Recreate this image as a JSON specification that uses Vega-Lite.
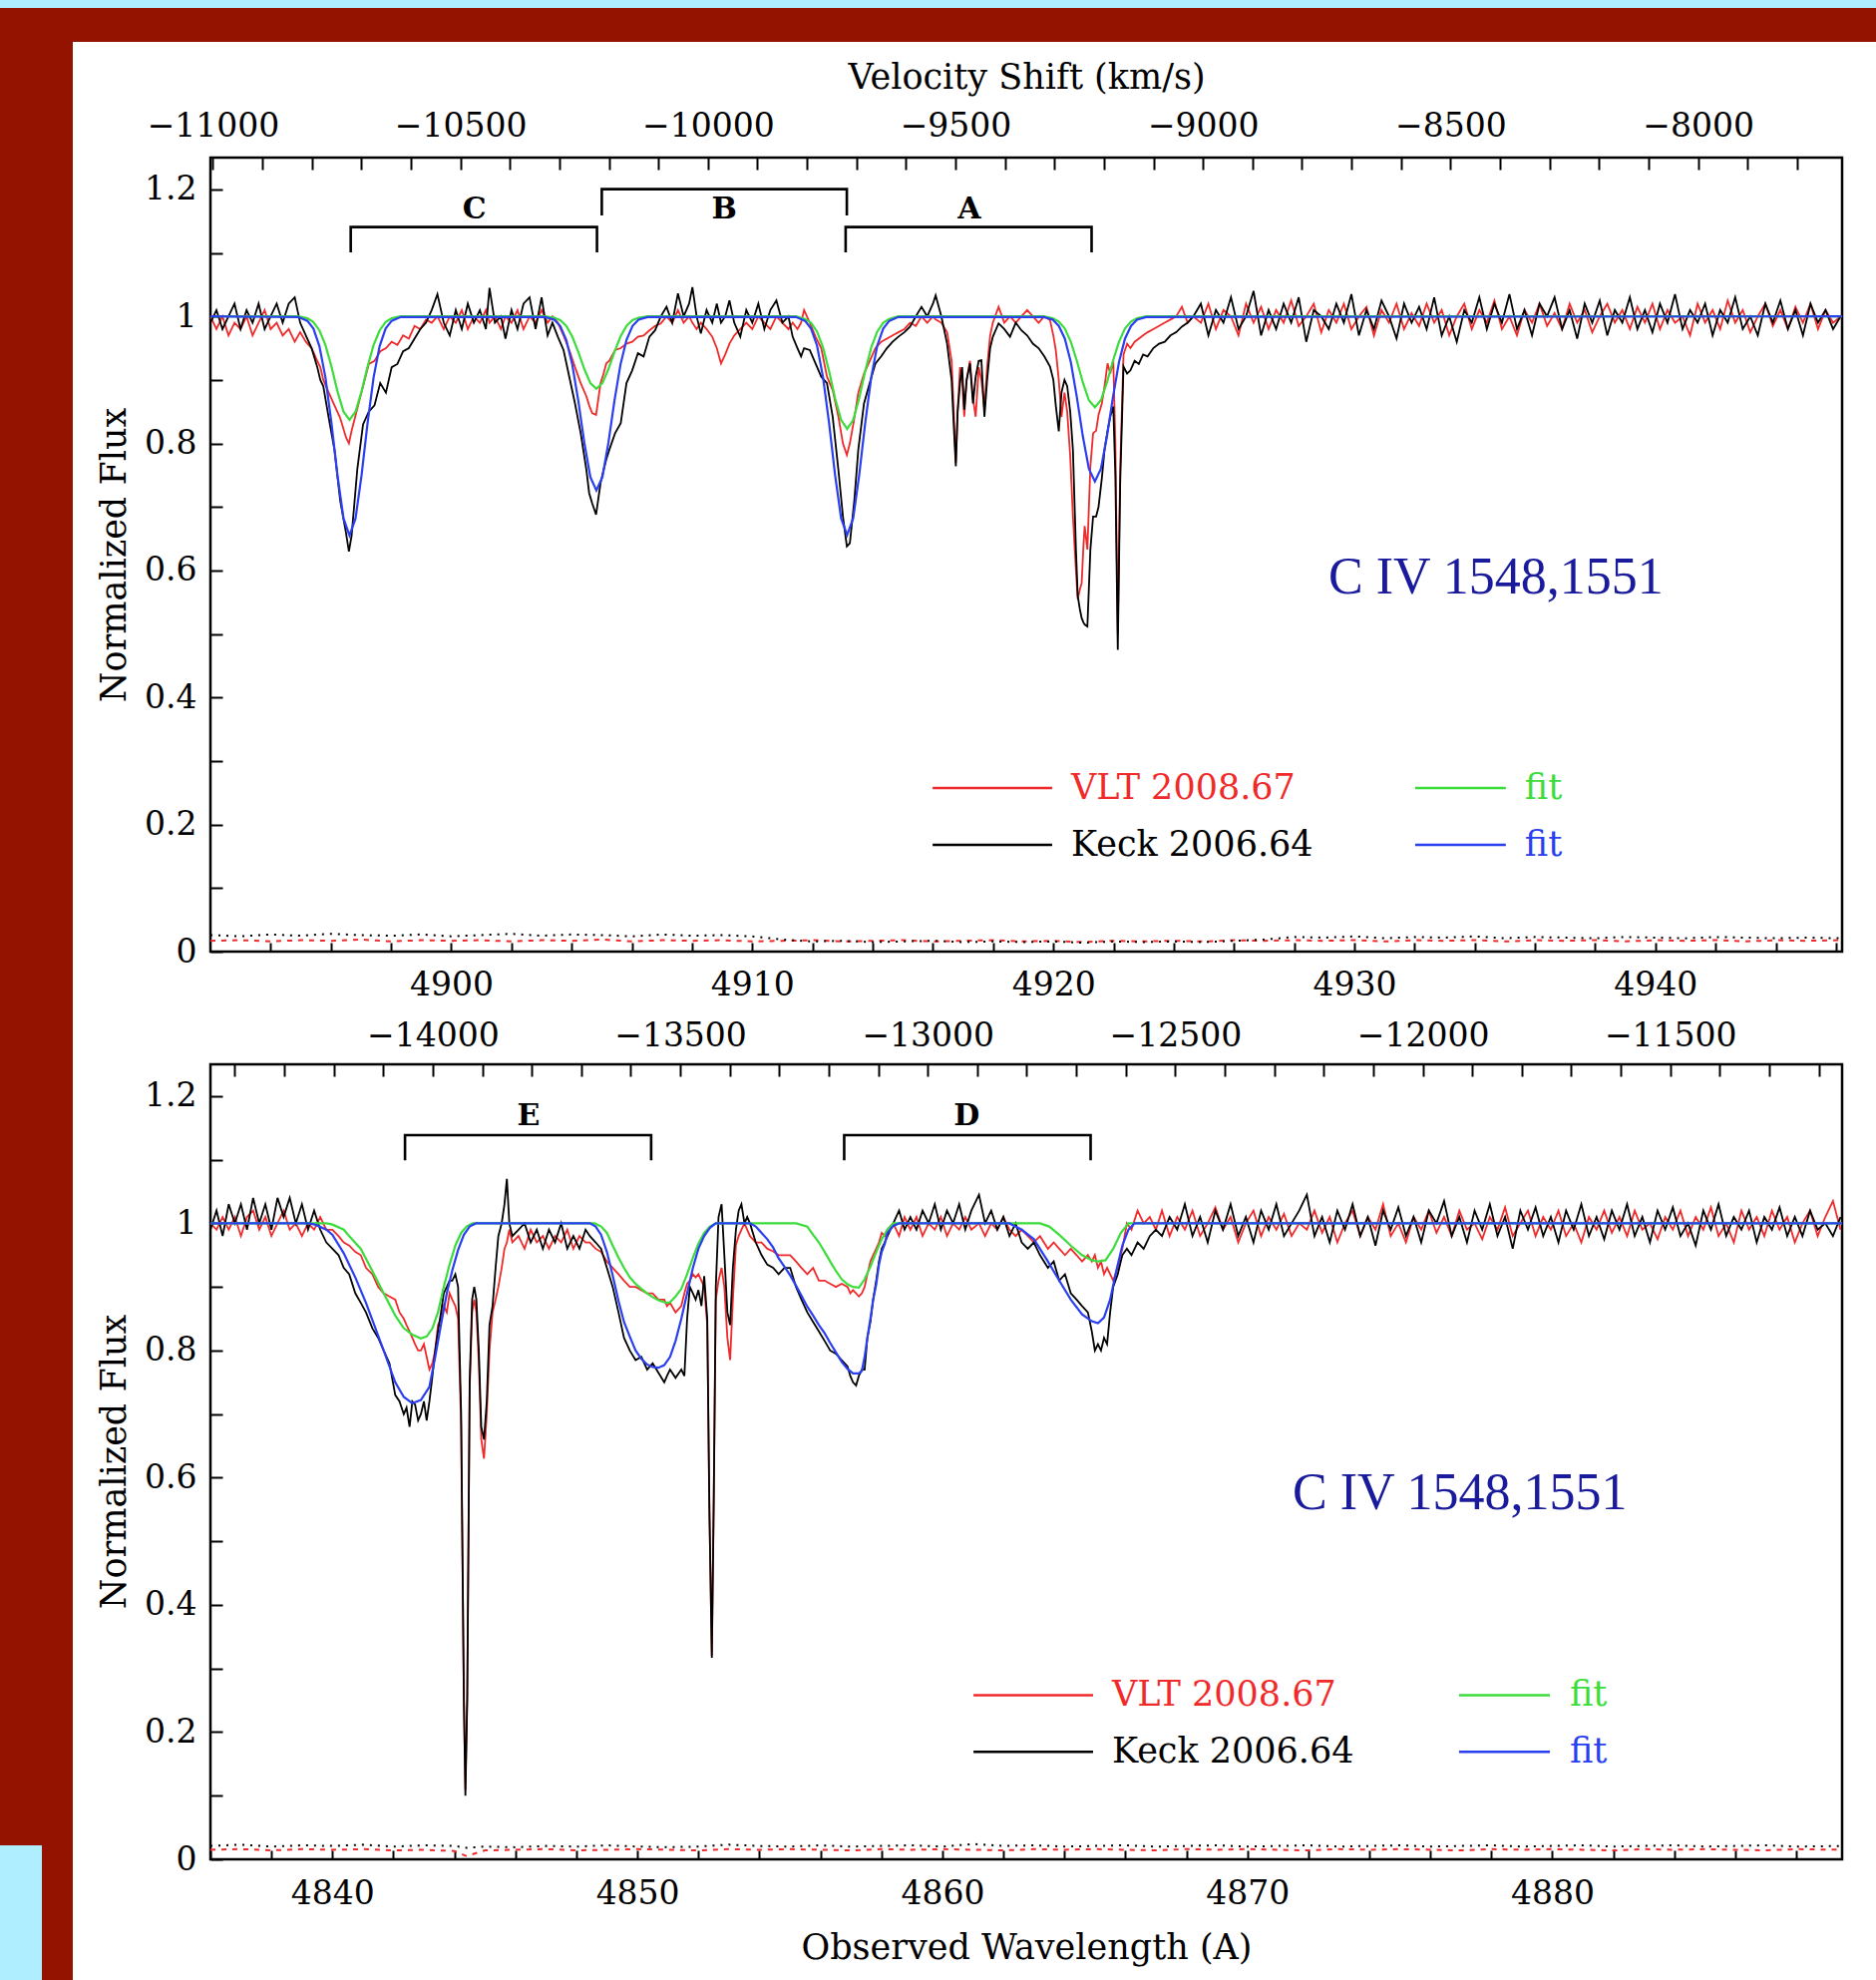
{
"padding": 0,
"background": "white",
"spacing": 0,
"config": {"view": {"stroke": null}},
"vconcat": [
{"width":1881,"height":8,"view":{"fill":"#aeeeff"},"data":{"values":[{"a":1}]},"mark":{"type":"point","opacity":0}},
{"width":1881,"height":34,"view":{"fill":"#931300"},"data":{"values":[{"a":1}]},"mark":{"type":"point","opacity":0}},
{"spacing": 0, "hconcat": [
 {"spacing": 0, "vconcat": [
  {"width":73,"height":1808,"view":{"fill":"#931300"},"data":{"values":[{"a":1}]},"mark":{"type":"point","opacity":0}},
  {"spacing": 0, "hconcat": [
   {"width":42,"height":135,"view":{"fill":"#aeeeff"},"data":{"values":[{"a":1}]},"mark":{"type":"point","opacity":0}},
   {"width":31,"height":136,"view":{"fill":"#931300"},"data":{"values":[{"a":1}]},"mark":{"type":"point","opacity":0}}
  ]}
 ]},
 {"width":22,"height":10,"data":{"values":[{"a":1}]},"mark":{"type":"point","opacity":0}},
 {"spacing": 0, "vconcat": [
  {"width":1636,"height":16,"data":{"values":[{"a":1}]},"mark":{"type":"point","opacity":0}},
  {
   "width": 1636, "height": 796,
   "view": {"stroke": "#000000", "strokeWidth": 2.5},
   "resolve": {"scale": {"x": "independent"}, "axis": {"y": "independent"}},
   "layer": [
    {"data": {"values": [{"w":4892,"r":1,"k":0.99},{"w":4892.2,"r":0.98,"k":1.01},{"w":4892.4,"r":1,"k":0.98},{"w":4892.6,"r":0.97,"k":1},{"w":4892.8,"r":0.99,"k":1.02},{"w":4893,"r":0.98,"k":0.98},{"w":4893.2,"r":1,"k":1.01},{"w":4893.4,"r":0.97,"k":0.99},{"w":4893.6,"r":0.99,"k":1.02},{"w":4893.8,"r":1.01,"k":0.98},{"w":4894,"r":0.98,"k":1},{"w":4894.2,"r":0.99,"k":1.02},{"w":4894.4,"r":0.97,"k":0.99},{"w":4894.6,"r":0.98,"k":1.02},{"w":4894.8,"r":0.96,"k":1.03},{"w":4894.98,"r":0.975,"k":0.99},{"w":4895.17,"r":0.96,"k":0.97},{"w":4895.36,"r":0.95,"k":0.95},{"w":4895.55,"r":0.93,"k":0.92},{"w":4895.65,"r":0.92,"k":0.9},{"w":4895.75,"r":0.9,"k":0.89},{"w":4895.93,"r":0.88,"k":0.84},{"w":4896.12,"r":0.86,"k":0.79},{"w":4896.31,"r":0.84,"k":0.71},{"w":4896.5,"r":0.81,"k":0.66},{"w":4896.6,"r":0.8,"k":0.63},{"w":4896.69,"r":0.82,"k":0.655},{"w":4896.88,"r":0.855,"k":0.76},{"w":4897.07,"r":0.89,"k":0.83},{"w":4897.26,"r":0.925,"k":0.85},{"w":4897.45,"r":0.93,"k":0.86},{"w":4897.64,"r":0.945,"k":0.895},{"w":4897.83,"r":0.95,"k":0.88},{"w":4898.02,"r":0.96,"k":0.92},{"w":4898.21,"r":0.955,"k":0.925},{"w":4898.4,"r":0.97,"k":0.945},{"w":4898.59,"r":0.965,"k":0.95},{"w":4898.78,"r":0.985,"k":0.965},{"w":4898.97,"r":0.98,"k":0.98},{"w":4899.16,"r":0.995,"k":0.99},{"w":4899.35,"r":0.99,"k":1.01},{"w":4899.54,"r":1,"k":1.035},{"w":4899.75,"r":0.98,"k":0.99},{"w":4899.95,"r":1,"k":0.97},{"w":4900.15,"r":0.99,"k":1.01},{"w":4900.35,"r":1.01,"k":0.98},{"w":4900.55,"r":0.98,"k":1.02},{"w":4900.75,"r":1,"k":0.99},{"w":4900.95,"r":0.99,"k":1.01},{"w":4901.15,"r":1.01,"k":0.98},{"w":4901.27,"r":0.99,"k":1.045},{"w":4901.45,"r":1,"k":0.99},{"w":4901.65,"r":0.98,"k":1},{"w":4901.8,"r":1,"k":0.965},{"w":4902,"r":0.99,"k":1.01},{"w":4902.2,"r":1.01,"k":0.98},{"w":4902.4,"r":0.98,"k":1.02},{"w":4902.6,"r":1,"k":1.03},{"w":4902.8,"r":0.99,"k":0.98},{"w":4903,"r":1.01,"k":1.03},{"w":4903.2,"r":0.99,"k":0.97},{"w":4903.36,"r":1,"k":0.99},{"w":4903.54,"r":0.99,"k":0.968},{"w":4903.73,"r":0.97,"k":0.947},{"w":4903.92,"r":0.947,"k":0.905},{"w":4904.11,"r":0.92,"k":0.863},{"w":4904.3,"r":0.895,"k":0.816},{"w":4904.49,"r":0.874,"k":0.758},{"w":4904.58,"r":0.86,"k":0.722},{"w":4904.68,"r":0.848,"k":0.706},{"w":4904.81,"r":0.845,"k":0.688},{"w":4904.96,"r":0.895,"k":0.738},{"w":4905.06,"r":0.91,"k":0.758},{"w":4905.15,"r":0.926,"k":0.775},{"w":4905.25,"r":0.93,"k":0.79},{"w":4905.44,"r":0.947,"k":0.816},{"w":4905.63,"r":0.95,"k":0.832},{"w":4905.82,"r":0.957,"k":0.895},{"w":4906.01,"r":0.96,"k":0.915},{"w":4906.2,"r":0.968,"k":0.942},{"w":4906.39,"r":0.97,"k":0.937},{"w":4906.58,"r":0.978,"k":0.968},{"w":4906.77,"r":0.985,"k":0.978},{"w":4906.96,"r":0.989,"k":1},{"w":4907.15,"r":1,"k":1.015},{"w":4907.34,"r":0.99,"k":0.99},{"w":4907.53,"r":1.01,"k":1.036},{"w":4907.72,"r":0.99,"k":1},{"w":4907.9,"r":1,"k":1.02},{"w":4908.01,"r":0.99,"k":1.046},{"w":4908.15,"r":0.98,"k":1},{"w":4908.29,"r":0.99,"k":0.973},{"w":4908.48,"r":0.98,"k":1.01},{"w":4908.67,"r":0.968,"k":0.99},{"w":4908.82,"r":0.95,"k":1.02},{"w":4908.96,"r":0.926,"k":0.99},{"w":4909.1,"r":0.94,"k":1},{"w":4909.24,"r":0.957,"k":1.025},{"w":4909.4,"r":0.97,"k":0.99},{"w":4909.6,"r":0.98,"k":0.968},{"w":4909.8,"r":0.99,"k":1.01},{"w":4910,"r":0.98,"k":0.99},{"w":4910.2,"r":1,"k":1.02},{"w":4910.4,"r":0.99,"k":0.98},{"w":4910.6,"r":0.98,"k":1.01},{"w":4910.8,"r":1,"k":1.025},{"w":4911,"r":0.99,"k":0.99},{"w":4911.2,"r":0.98,"k":1},{"w":4911.34,"r":0.99,"k":0.968},{"w":4911.5,"r":0.98,"k":0.95},{"w":4911.62,"r":0.99,"k":0.937},{"w":4911.72,"r":1.01,"k":0.95},{"w":4911.91,"r":0.99,"k":0.947},{"w":4912.1,"r":0.968,"k":0.926},{"w":4912.29,"r":0.95,"k":0.905},{"w":4912.48,"r":0.905,"k":0.895},{"w":4912.67,"r":0.884,"k":0.842},{"w":4912.86,"r":0.842,"k":0.758},{"w":4913.01,"r":0.8,"k":0.685},{"w":4913.14,"r":0.782,"k":0.638},{"w":4913.24,"r":0.8,"k":0.643},{"w":4913.39,"r":0.84,"k":0.711},{"w":4913.52,"r":0.88,"k":0.79},{"w":4913.71,"r":0.91,"k":0.863},{"w":4913.9,"r":0.93,"k":0.895},{"w":4914.09,"r":0.95,"k":0.926},{"w":4914.28,"r":0.96,"k":0.937},{"w":4914.47,"r":0.965,"k":0.95},{"w":4914.66,"r":0.97,"k":0.96},{"w":4914.85,"r":0.975,"k":0.968},{"w":4915.05,"r":0.98,"k":0.975},{"w":4915.24,"r":0.99,"k":0.984},{"w":4915.43,"r":0.985,"k":1},{"w":4915.62,"r":1,"k":1.015},{"w":4915.81,"r":0.99,"k":1},{"w":4916,"r":1,"k":1.02},{"w":4916.09,"r":0.995,"k":1.033},{"w":4916.28,"r":0.99,"k":1},{"w":4916.47,"r":0.975,"k":0.957},{"w":4916.62,"r":0.93,"k":0.9},{"w":4916.7,"r":0.84,"k":0.82},{"w":4916.76,"r":0.77,"k":0.764},{"w":4916.82,"r":0.85,"k":0.85},{"w":4916.9,"r":0.92,"k":0.895},{"w":4916.97,"r":0.9,"k":0.92},{"w":4917.04,"r":0.842,"k":0.853},{"w":4917.12,"r":0.9,"k":0.9},{"w":4917.23,"r":0.93,"k":0.926},{"w":4917.33,"r":0.87,"k":0.863},{"w":4917.42,"r":0.842,"k":0.905},{"w":4917.52,"r":0.92,"k":0.93},{"w":4917.61,"r":0.9,"k":0.931},{"w":4917.71,"r":0.853,"k":0.842},{"w":4917.8,"r":0.92,"k":0.9},{"w":4917.9,"r":0.97,"k":0.95},{"w":4917.99,"r":0.99,"k":0.968},{"w":4918.18,"r":1.015,"k":0.989},{"w":4918.37,"r":0.99,"k":0.98},{"w":4918.56,"r":1,"k":0.968},{"w":4918.75,"r":0.99,"k":0.99},{"w":4918.94,"r":1,"k":0.978},{"w":4919.13,"r":1.01,"k":0.97},{"w":4919.32,"r":1,"k":0.957},{"w":4919.51,"r":0.99,"k":0.95},{"w":4919.7,"r":1,"k":0.937},{"w":4919.89,"r":0.994,"k":0.921},{"w":4920,"r":0.97,"k":0.9},{"w":4920.08,"r":0.947,"k":0.86},{"w":4920.18,"r":0.9,"k":0.819},{"w":4920.27,"r":0.842,"k":0.88},{"w":4920.37,"r":0.88,"k":0.9},{"w":4920.46,"r":0.85,"k":0.89},{"w":4920.56,"r":0.78,"k":0.85},{"w":4920.65,"r":0.685,"k":0.79},{"w":4920.75,"r":0.6,"k":0.633},{"w":4920.81,"r":0.555,"k":0.56},{"w":4920.88,"r":0.57,"k":0.539},{"w":4920.94,"r":0.58,"k":0.525},{"w":4921,"r":0.64,"k":0.518},{"w":4921.04,"r":0.67,"k":0.515},{"w":4921.13,"r":0.633,"k":0.512},{"w":4921.23,"r":0.764,"k":0.633},{"w":4921.32,"r":0.816,"k":0.685},{"w":4921.42,"r":0.82,"k":0.685},{"w":4921.5,"r":0.845,"k":0.7},{"w":4921.61,"r":0.863,"k":0.745},{"w":4921.7,"r":0.89,"k":0.79},{"w":4921.8,"r":0.926,"k":0.82},{"w":4921.89,"r":0.91,"k":0.842},{"w":4921.99,"r":0.93,"k":0.858},{"w":4922.06,"r":0.8,"k":0.75},{"w":4922.14,"r":0.5,"k":0.475},{"w":4922.22,"r":0.76,"k":0.738},{"w":4922.33,"r":0.94,"k":0.921},{"w":4922.45,"r":0.957,"k":0.91},{"w":4922.56,"r":0.95,"k":0.915},{"w":4922.7,"r":0.96,"k":0.93},{"w":4922.84,"r":0.965,"k":0.925},{"w":4922.98,"r":0.97,"k":0.94},{"w":4923.13,"r":0.975,"k":0.937},{"w":4923.32,"r":0.98,"k":0.95},{"w":4923.51,"r":0.985,"k":0.957},{"w":4923.7,"r":0.99,"k":0.96},{"w":4923.89,"r":0.995,"k":0.97},{"w":4924.08,"r":1,"k":0.975},{"w":4924.27,"r":1.015,"k":0.984},{"w":4924.46,"r":0.99,"k":0.99},{"w":4924.65,"r":1,"k":1},{"w":4924.9,"r":0.99,"k":1.02},{"w":4925.15,"r":1.02,"k":0.97},{"w":4925.4,"r":0.98,"k":1.01},{"w":4925.65,"r":1.01,"k":0.99},{"w":4925.9,"r":1,"k":1.03},{"w":4926.15,"r":0.97,"k":0.98},{"w":4926.4,"r":1.02,"k":1},{"w":4926.65,"r":0.99,"k":1.04},{"w":4926.9,"r":1.015,"k":0.97},{"w":4927.15,"r":0.98,"k":1.01},{"w":4927.4,"r":1.01,"k":0.98},{"w":4927.65,"r":0.99,"k":1.02},{"w":4927.9,"r":1.025,"k":0.99},{"w":4928.15,"r":0.985,"k":1.03},{"w":4928.4,"r":1,"k":0.96},{"w":4928.65,"r":1.02,"k":1.01},{"w":4928.9,"r":0.975,"k":1},{"w":4929.15,"r":1.01,"k":0.98},{"w":4929.4,"r":0.99,"k":1.02},{"w":4929.65,"r":1.02,"k":0.99},{"w":4929.9,"r":0.98,"k":1.035},{"w":4930.15,"r":1,"k":0.97},{"w":4930.4,"r":1.015,"k":1.01},{"w":4930.65,"r":0.97,"k":0.98},{"w":4930.9,"r":1.01,"k":1.025},{"w":4931.15,"r":0.99,"k":1},{"w":4931.4,"r":1.02,"k":0.965},{"w":4931.65,"r":0.98,"k":1.02},{"w":4931.9,"r":1.005,"k":0.99},{"w":4932.15,"r":0.985,"k":1.015},{"w":4932.4,"r":1.02,"k":0.98},{"w":4932.65,"r":0.99,"k":1.03},{"w":4932.9,"r":1.01,"k":0.97},{"w":4933.15,"r":0.97,"k":1},{"w":4933.4,"r":1,"k":0.96},{"w":4933.65,"r":1.02,"k":1.01},{"w":4933.9,"r":0.98,"k":0.99},{"w":4934.15,"r":1.01,"k":1.03},{"w":4934.4,"r":0.99,"k":0.98},{"w":4934.65,"r":1.025,"k":1.02},{"w":4934.9,"r":0.98,"k":0.99},{"w":4935.15,"r":1,"k":1.035},{"w":4935.4,"r":0.97,"k":0.98},{"w":4935.65,"r":1.01,"k":1.01},{"w":4935.9,"r":0.99,"k":0.97},{"w":4936.15,"r":1.02,"k":1.02},{"w":4936.4,"r":0.985,"k":1},{"w":4936.65,"r":1.005,"k":1.03},{"w":4936.9,"r":0.98,"k":0.98},{"w":4937.15,"r":1.02,"k":1.01},{"w":4937.4,"r":0.99,"k":0.965},{"w":4937.65,"r":1.01,"k":1.02},{"w":4937.9,"r":0.975,"k":0.99},{"w":4938.15,"r":1,"k":1.025},{"w":4938.4,"r":1.02,"k":0.97},{"w":4938.65,"r":0.99,"k":1.01},{"w":4938.9,"r":1.01,"k":0.99},{"w":4939.15,"r":0.98,"k":1.03},{"w":4939.4,"r":1.015,"k":0.98},{"w":4939.65,"r":0.99,"k":1.01},{"w":4939.9,"r":1.02,"k":0.975},{"w":4940.15,"r":0.98,"k":1.02},{"w":4940.4,"r":1.01,"k":0.99},{"w":4940.65,"r":0.99,"k":1.035},{"w":4940.9,"r":1,"k":0.98},{"w":4941.15,"r":0.97,"k":1.01},{"w":4941.4,"r":1.02,"k":0.99},{"w":4941.65,"r":0.99,"k":1.02},{"w":4941.9,"r":1.01,"k":0.97},{"w":4942.15,"r":0.98,"k":1.01},{"w":4942.4,"r":1.025,"k":0.99},{"w":4942.65,"r":0.99,"k":1.03},{"w":4942.9,"r":1.01,"k":0.98},{"w":4943.15,"r":0.975,"k":1},{"w":4943.4,"r":1,"k":0.97},{"w":4943.65,"r":1.02,"k":1.02},{"w":4943.9,"r":0.985,"k":0.99},{"w":4944.15,"r":1.01,"k":1.025},{"w":4944.4,"r":0.98,"k":0.98},{"w":4944.65,"r":1.015,"k":1.01},{"w":4944.9,"r":0.99,"k":0.97},{"w":4945.15,"r":1.02,"k":1.02},{"w":4945.4,"r":0.98,"k":0.99},{"w":4945.65,"r":1.01,"k":1.01},{"w":4945.9,"r":0.99,"k":0.98},{"w":4946.15,"r":1,"k":1}]},
     "transform": [{"fold": ["r", "k"], "as": ["s", "f"]}],
     "mark": {"type": "line", "strokeWidth": 1.8, "clip": true},
     "encoding": {
      "x": {"field": "w", "type": "quantitative", "scale": {"domain": [4892, 4946.2], "nice": false, "zero": false}, "axis": {"orient": "bottom", "values": [4894,4896,4898,4900,4902,4904,4906,4908,4910,4912,4914,4916,4918,4920,4922,4924,4926,4928,4930,4932,4934,4936,4938,4940,4942,4944,4946], "format": "d", "labelExpr": "datum.value % 10 === 0 ? datum.label : ''", "title": null, "domain": false, "grid": false, "tickSize": -9, "tickWidth": 2, "tickColor": "#000", "labelPadding": 42, "labelBaseline": "middle", "labelFont": "DejaVu Serif", "labelFontSize": 33, "labelColor": "#000", "labelOverlap": false, "labelFlush": false}},
      "y": {"field": "f", "type": "quantitative", "scale": {"domain": [0, 1.25], "nice": false, "zero": false}, "axis": {"orient": "left", "values": [0,0.1,0.2,0.3,0.4,0.5,0.6,0.7,0.8,0.9,1,1.1,1.2], "format": "~g", "labelExpr": "round(datum.value * 10) % 2 === 0 ? datum.label : ''", "domain": false, "grid": false, "tickSize": -12, "tickWidth": 2, "tickColor": "#000", "labelPadding": 26, "labelBaseline": "middle", "labelFont": "DejaVu Serif", "labelFontSize": 33, "labelColor": "#000", "labelOverlap": false, "labelFlush": false, "title": "Normalized Flux", "titleFont": "DejaVu Serif", "titleFontSize": 35, "titleFontWeight": "normal", "titleColor": "#000", "titleX": -97, "titleY": 398, "titleAngle": -90, "titleBaseline": "middle", "titleAlign": "center"}},
      "color": {"field": "s", "type": "nominal", "scale": {"domain": ["r","g","k","b"], "range": ["#f02a2a","#3ddc3d","#000000","#2a3ff0"]}, "legend": null}
     }},
    {"data": {"values": [{"w":4892,"g":1,"b":1},{"w":4894.92,"g":1,"b":0.999},{"w":4895.22,"g":0.997,"b":0.993},{"w":4895.42,"g":0.991,"b":0.981},{"w":4895.62,"g":0.978,"b":0.953},{"w":4895.82,"g":0.955,"b":0.904},{"w":4896.02,"g":0.921,"b":0.832},{"w":4896.22,"g":0.882,"b":0.75},{"w":4896.42,"g":0.85,"b":0.682},{"w":4896.62,"g":0.837,"b":0.655},{"w":4896.82,"g":0.85,"b":0.682},{"w":4897.02,"g":0.882,"b":0.75},{"w":4897.22,"g":0.921,"b":0.832},{"w":4897.42,"g":0.955,"b":0.904},{"w":4897.62,"g":0.978,"b":0.953},{"w":4897.82,"g":0.991,"b":0.981},{"w":4898.02,"g":0.997,"b":0.993},{"w":4898.32,"g":1,"b":0.999},{"w":4903.12,"g":1,"b":0.999},{"w":4903.42,"g":0.998,"b":0.995},{"w":4903.62,"g":0.994,"b":0.985},{"w":4903.82,"g":0.985,"b":0.963},{"w":4904.02,"g":0.968,"b":0.924},{"w":4904.22,"g":0.944,"b":0.867},{"w":4904.42,"g":0.917,"b":0.801},{"w":4904.62,"g":0.895,"b":0.747},{"w":4904.82,"g":0.886,"b":0.726},{"w":4905.02,"g":0.895,"b":0.747},{"w":4905.22,"g":0.917,"b":0.801},{"w":4905.42,"g":0.944,"b":0.867},{"w":4905.62,"g":0.968,"b":0.924},{"w":4905.82,"g":0.985,"b":0.963},{"w":4906.02,"g":0.994,"b":0.985},{"w":4906.22,"g":0.998,"b":0.995},{"w":4906.52,"g":1,"b":0.999},{"w":4911.45,"g":1,"b":0.999},{"w":4911.75,"g":0.996,"b":0.993},{"w":4911.95,"g":0.99,"b":0.981},{"w":4912.15,"g":0.976,"b":0.954},{"w":4912.35,"g":0.951,"b":0.904},{"w":4912.55,"g":0.914,"b":0.832},{"w":4912.75,"g":0.871,"b":0.75},{"w":4912.95,"g":0.837,"b":0.682},{"w":4913.15,"g":0.823,"b":0.656},{"w":4913.35,"g":0.837,"b":0.682},{"w":4913.55,"g":0.871,"b":0.75},{"w":4913.75,"g":0.914,"b":0.832},{"w":4913.95,"g":0.951,"b":0.904},{"w":4914.15,"g":0.976,"b":0.954},{"w":4914.35,"g":0.99,"b":0.981},{"w":4914.55,"g":0.996,"b":0.993},{"w":4914.85,"g":1,"b":0.999},{"w":4919.68,"g":1,"b":0.999},{"w":4919.98,"g":0.997,"b":0.995},{"w":4920.18,"g":0.992,"b":0.985},{"w":4920.38,"g":0.981,"b":0.965},{"w":4920.58,"g":0.96,"b":0.928},{"w":4920.78,"g":0.93,"b":0.873},{"w":4920.98,"g":0.896,"b":0.811},{"w":4921.18,"g":0.868,"b":0.76},{"w":4921.38,"g":0.857,"b":0.74},{"w":4921.58,"g":0.868,"b":0.76},{"w":4921.78,"g":0.896,"b":0.811},{"w":4921.98,"g":0.93,"b":0.873},{"w":4922.18,"g":0.96,"b":0.928},{"w":4922.38,"g":0.981,"b":0.965},{"w":4922.58,"g":0.992,"b":0.985},{"w":4922.78,"g":0.997,"b":0.995},{"w":4923.08,"g":1,"b":0.999},{"w":4946.2,"g":1,"b":1}]},
     "transform": [{"fold": ["g", "b"], "as": ["s", "f"]}],
     "mark": {"type": "line", "strokeWidth": 2.2, "clip": true},
     "encoding": {
      "x": {"field": "w", "type": "quantitative", "scale": {"domain": [4892, 4946.2], "nice": false, "zero": false}, "axis": null},
      "y": {"field": "f", "type": "quantitative", "scale": {"domain": [0, 1.25], "nice": false, "zero": false}, "axis": null},
      "color": {"field": "s", "type": "nominal", "scale": {"domain": ["r","g","k","b"], "range": ["#f02a2a","#3ddc3d","#000000","#2a3ff0"]}, "legend": null}
     }},
    {"data": {"values": [{"w":4892,"r":0.017,"k":0.026},{"w":4893,"r":0.018,"k":0.024},{"w":4894,"r":0.016,"k":0.027},{"w":4895,"r":0.018,"k":0.025},{"w":4896,"r":0.017,"k":0.028},{"w":4897,"r":0.019,"k":0.026},{"w":4898,"r":0.016,"k":0.025},{"w":4899,"r":0.018,"k":0.027},{"w":4900,"r":0.017,"k":0.024},{"w":4901,"r":0.018,"k":0.026},{"w":4902,"r":0.016,"k":0.028},{"w":4903,"r":0.018,"k":0.025},{"w":4904,"r":0.017,"k":0.027},{"w":4905,"r":0.019,"k":0.026},{"w":4906,"r":0.016,"k":0.024},{"w":4907,"r":0.018,"k":0.027},{"w":4908,"r":0.017,"k":0.025},{"w":4909,"r":0.018,"k":0.026},{"w":4910,"r":0.016,"k":0.024},{"w":4911,"r":0.017,"k":0.019},{"w":4912,"r":0.018,"k":0.016},{"w":4913,"r":0.016,"k":0.017},{"w":4914,"r":0.017,"k":0.015},{"w":4915,"r":0.018,"k":0.016},{"w":4916,"r":0.016,"k":0.017},{"w":4917,"r":0.017,"k":0.015},{"w":4918,"r":0.018,"k":0.016},{"w":4919,"r":0.016,"k":0.015},{"w":4920,"r":0.017,"k":0.016},{"w":4921,"r":0.015,"k":0.014},{"w":4922,"r":0.017,"k":0.016},{"w":4923,"r":0.016,"k":0.015},{"w":4924,"r":0.017,"k":0.016},{"w":4925,"r":0.016,"k":0.015},{"w":4926,"r":0.018,"k":0.017},{"w":4927,"r":0.017,"k":0.019},{"w":4928,"r":0.018,"k":0.023},{"w":4929,"r":0.017,"k":0.022},{"w":4930,"r":0.018,"k":0.024},{"w":4931,"r":0.016,"k":0.021},{"w":4932,"r":0.018,"k":0.023},{"w":4933,"r":0.017,"k":0.022},{"w":4934,"r":0.018,"k":0.024},{"w":4935,"r":0.016,"k":0.021},{"w":4936,"r":0.018,"k":0.023},{"w":4937,"r":0.017,"k":0.022},{"w":4938,"r":0.018,"k":0.021},{"w":4939,"r":0.016,"k":0.023},{"w":4940,"r":0.018,"k":0.022},{"w":4941,"r":0.017,"k":0.021},{"w":4942,"r":0.018,"k":0.023},{"w":4943,"r":0.016,"k":0.022},{"w":4944,"r":0.018,"k":0.021},{"w":4945,"r":0.017,"k":0.022},{"w":4946.2,"r":0.018,"k":0.021}]},
     "transform": [{"fold": ["r", "k"], "as": ["s", "f"]}],
     "mark": {"type": "line", "strokeWidth": 2, "clip": true},
     "encoding": {
      "x": {"field": "w", "type": "quantitative", "scale": {"domain": [4892, 4946.2], "nice": false, "zero": false}, "axis": null},
      "y": {"field": "f", "type": "quantitative", "scale": {"domain": [0, 1.25], "nice": false, "zero": false}, "axis": null},
      "color": {"field": "s", "type": "nominal", "scale": {"domain": ["r","g","k","b"], "range": ["#f02a2a","#3ddc3d","#000000","#2a3ff0"]}, "legend": null},
      "strokeDash": {"field": "s", "type": "nominal", "scale": {"domain": ["r","k"], "range": [[5,6],[2,6]]}, "legend": null}
     }},
    {"data": {"values": [{"b":"C","o":1,"w":4896.66,"f":1.101},{"b":"C","o":2,"w":4896.66,"f":1.1407},{"b":"C","o":3,"w":4904.84,"f":1.1407},{"b":"C","o":4,"w":4904.84,"f":1.101},{"b":"B","o":1,"w":4905.0,"f":1.159},{"b":"B","o":2,"w":4905.0,"f":1.2004},{"b":"B","o":3,"w":4913.14,"f":1.2004},{"b":"B","o":4,"w":4913.14,"f":1.159},{"b":"A","o":1,"w":4913.1,"f":1.101},{"b":"A","o":2,"w":4913.1,"f":1.1407},{"b":"A","o":3,"w":4921.27,"f":1.1407},{"b":"A","o":4,"w":4921.27,"f":1.101}]},
     "mark": {"type": "line", "color": "#000000", "strokeWidth": 2.6},
     "encoding": {
      "x": {"field": "w", "type": "quantitative", "scale": {"domain": [4892, 4946.2], "nice": false, "zero": false}, "axis": null},
      "y": {"field": "f", "type": "quantitative", "scale": {"domain": [0, 1.25], "nice": false, "zero": false}, "axis": null},
      "detail": {"field": "b", "type": "nominal"},
      "order": {"field": "o", "type": "quantitative"}
     }},
    {"data": {"values": [{"t":"C","w":4900.77,"f":1.1685},{"t":"B","w":4909.07,"f":1.1685},{"t":"A","w":4917.21,"f":1.1685}]},
     "mark": {"type": "text", "font": "DejaVu Serif", "fontWeight": "bold", "fontSize": 30, "color": "#000000", "baseline": "middle", "align": "center"},
     "encoding": {
      "x": {"field": "w", "type": "quantitative", "scale": {"domain": [4892, 4946.2], "nice": false, "zero": false}, "axis": null},
      "y": {"field": "f", "type": "quantitative", "scale": {"domain": [0, 1.25], "nice": false, "zero": false}, "axis": null},
      "text": {"field": "t", "type": "nominal"}
     }},
    {"data": {"values": [{"s":"r","w":4915.99,"w2":4919.96,"tx":4920.59,"f":0.2575,"t":"VLT 2008.67"},{"s":"g","w":4932.02,"w2":4935.03,"tx":4935.66,"f":0.2575,"t":"fit"},{"s":"k","w":4915.99,"w2":4919.96,"tx":4920.59,"f":0.168,"t":"Keck 2006.64"},{"s":"b","w":4932.02,"w2":4935.03,"tx":4935.66,"f":0.168,"t":"fit"}]},
     "mark": {"type": "rule", "strokeWidth": 2.4},
     "encoding": {
      "x": {"field": "w", "type": "quantitative", "scale": {"domain": [4892, 4946.2], "nice": false, "zero": false}, "axis": null},
      "x2": {"field": "w2"},
      "y": {"field": "f", "type": "quantitative", "scale": {"domain": [0, 1.25], "nice": false, "zero": false}, "axis": null},
      "color": {"field": "s", "type": "nominal", "scale": {"domain": ["r","g","k","b"], "range": ["#f02a2a","#3ddc3d","#000000","#2a3ff0"]}, "legend": null}
     }},
    {"data": {"values": [{"s":"r","w":4915.99,"w2":4919.96,"tx":4920.59,"f":0.2575,"t":"VLT 2008.67"},{"s":"g","w":4932.02,"w2":4935.03,"tx":4935.66,"f":0.2575,"t":"fit"},{"s":"k","w":4915.99,"w2":4919.96,"tx":4920.59,"f":0.168,"t":"Keck 2006.64"},{"s":"b","w":4932.02,"w2":4935.03,"tx":4935.66,"f":0.168,"t":"fit"}]},
     "mark": {"type": "text", "font": "DejaVu Serif", "fontSize": 35, "align": "left", "baseline": "middle"},
     "encoding": {
      "x": {"field": "tx", "type": "quantitative", "scale": {"domain": [4892, 4946.2], "nice": false, "zero": false}, "axis": null},
      "y": {"field": "f", "type": "quantitative", "scale": {"domain": [0, 1.25], "nice": false, "zero": false}, "axis": null},
      "text": {"field": "t", "type": "nominal"},
      "color": {"field": "s", "type": "nominal", "scale": {"domain": ["r","g","k","b"], "range": ["#f02a2a","#3ddc3d","#000000","#2a3ff0"]}, "legend": null}
     }},
    {"data": {"values": [{"w": 4929.14, "f": 0.564, "t": "C IV 1548,1551"}]},
     "mark": {"type": "text", "font": "Liberation Serif", "fontSize": 52, "align": "left", "baseline": "alphabetic", "color": "#1a1a9c"},
     "encoding": {
      "x": {"field": "w", "type": "quantitative", "scale": {"domain": [4892, 4946.2], "nice": false, "zero": false}, "axis": null},
      "y": {"field": "f", "type": "quantitative", "scale": {"domain": [0, 1.25], "nice": false, "zero": false}, "axis": null},
      "text": {"field": "t", "type": "nominal"}
     }},
    {"data": {"values": [{"v": -11005}, {"v": -7709}]}, "mark": {"type": "point", "opacity": 0},
     "encoding": {
      "x": {"field": "v", "type": "quantitative", "scale": {"domain": [-11005, -7709], "nice": false, "zero": false}, "axis": {"orient": "top", "values": [-11000,-10900,-10800,-10700,-10600,-10500,-10400,-10300,-10200,-10100,-10000,-9900,-9800,-9700,-9600,-9500,-9400,-9300,-9200,-9100,-9000,-8900,-8800,-8700,-8600,-8500,-8400,-8300,-8200,-8100,-8000,-7900,-7800], "format": "d", "labelExpr": "datum.value % 500 === 0 ? datum.label : ''", "domain": false, "grid": false, "tickSize": -12, "tickWidth": 2, "tickColor": "#000", "labelPadding": 44, "labelBaseline": "middle", "labelFont": "DejaVu Serif", "labelFontSize": 33, "labelColor": "#000", "labelOverlap": false, "labelFlush": false, "title": "Velocity Shift (km/s)", "titleFont": "DejaVu Serif", "titleFontSize": 35, "titleFontWeight": "normal", "titleColor": "#000", "titleY": -81, "titleBaseline": "middle"}}
     }}
   ]
  },
  {"width":1636,"height":14,"data":{"values":[{"a":1}]},"mark":{"type":"point","opacity":0}},
  {
   "width": 1636, "height": 797,
   "view": {"stroke": "#000000", "strokeWidth": 2.5},
   "resolve": {"scale": {"x": "independent"}, "axis": {"y": "independent"}},
   "layer": [
    {"data": {"values": [{"w":4836,"r":1,"k":0.99},{"w":4836.2,"r":0.99,"k":1.02},{"w":4836.4,"r":1.01,"k":0.98},{"w":4836.6,"r":0.99,"k":1.03},{"w":4836.8,"r":1.01,"k":1},{"w":4837,"r":0.98,"k":1.03},{"w":4837.2,"r":1.01,"k":0.99},{"w":4837.4,"r":1.02,"k":1.04},{"w":4837.6,"r":0.99,"k":1},{"w":4837.8,"r":1.01,"k":1.03},{"w":4838,"r":0.98,"k":0.99},{"w":4838.2,"r":1,"k":1.04},{"w":4838.4,"r":1.02,"k":1.01},{"w":4838.6,"r":0.99,"k":1.04},{"w":4838.8,"r":1,"k":1},{"w":4839,"r":0.98,"k":1.03},{"w":4839.2,"r":1,"k":0.99},{"w":4839.4,"r":0.99,"k":1.02},{"w":4839.6,"r":1.01,"k":0.99},{"w":4839.8,"r":0.99,"k":0.97},{"w":4840,"r":0.99,"k":0.96},{"w":4840.2,"r":0.98,"k":0.95},{"w":4840.37,"r":0.97,"k":0.93},{"w":4840.55,"r":0.965,"k":0.92},{"w":4840.75,"r":0.955,"k":0.89},{"w":4840.93,"r":0.95,"k":0.875},{"w":4841.1,"r":0.93,"k":0.86},{"w":4841.31,"r":0.92,"k":0.835},{"w":4841.5,"r":0.9,"k":0.82},{"w":4841.68,"r":0.89,"k":0.8},{"w":4841.87,"r":0.885,"k":0.78},{"w":4842.06,"r":0.88,"k":0.73},{"w":4842.2,"r":0.86,"k":0.72},{"w":4842.34,"r":0.85,"k":0.7},{"w":4842.43,"r":0.84,"k":0.71},{"w":4842.53,"r":0.83,"k":0.68},{"w":4842.62,"r":0.82,"k":0.72},{"w":4842.71,"r":0.81,"k":0.715},{"w":4842.81,"r":0.8,"k":0.69},{"w":4842.9,"r":0.8,"k":0.7},{"w":4843,"r":0.81,"k":0.72},{"w":4843.09,"r":0.79,"k":0.69},{"w":4843.18,"r":0.77,"k":0.72},{"w":4843.28,"r":0.78,"k":0.76},{"w":4843.37,"r":0.8,"k":0.8},{"w":4843.46,"r":0.84,"k":0.83},{"w":4843.56,"r":0.85,"k":0.86},{"w":4843.65,"r":0.87,"k":0.89},{"w":4843.75,"r":0.86,"k":0.9},{"w":4843.84,"r":0.89,"k":0.91},{"w":4843.93,"r":0.88,"k":0.91},{"w":4844.03,"r":0.87,"k":0.92},{"w":4844.12,"r":0.85,"k":0.9},{"w":4844.22,"r":0.68,"k":0.7},{"w":4844.31,"r":0.25,"k":0.25},{"w":4844.36,"r":0.11,"k":0.1},{"w":4844.42,"r":0.26,"k":0.25},{"w":4844.5,"r":0.74,"k":0.75},{"w":4844.58,"r":0.86,"k":0.88},{"w":4844.65,"r":0.88,"k":0.9},{"w":4844.72,"r":0.86,"k":0.88},{"w":4844.8,"r":0.78,"k":0.8},{"w":4844.88,"r":0.66,"k":0.68},{"w":4844.97,"r":0.63,"k":0.66},{"w":4845.06,"r":0.7,"k":0.72},{"w":4845.15,"r":0.8,"k":0.84},{"w":4845.25,"r":0.86,"k":0.87},{"w":4845.35,"r":0.88,"k":0.93},{"w":4845.44,"r":0.9,"k":0.98},{"w":4845.55,"r":0.93,"k":1},{"w":4845.64,"r":0.96,"k":1.03},{"w":4845.72,"r":0.97,"k":1.07},{"w":4845.8,"r":0.99,"k":1},{"w":4845.9,"r":0.97,"k":0.98},{"w":4846.1,"r":0.98,"k":0.99},{"w":4846.3,"r":0.96,"k":1},{"w":4846.5,"r":0.99,"k":0.97},{"w":4846.7,"r":0.97,"k":0.99},{"w":4846.9,"r":0.98,"k":0.96},{"w":4847.1,"r":0.96,"k":0.99},{"w":4847.3,"r":0.98,"k":0.97},{"w":4847.5,"r":0.97,"k":1},{"w":4847.7,"r":0.99,"k":0.96},{"w":4847.9,"r":0.96,"k":0.98},{"w":4848.1,"r":0.98,"k":0.96},{"w":4848.3,"r":0.97,"k":0.99},{"w":4848.44,"r":0.97,"k":0.98},{"w":4848.63,"r":0.96,"k":0.97},{"w":4848.81,"r":0.955,"k":0.96},{"w":4849,"r":0.94,"k":0.93},{"w":4849.19,"r":0.93,"k":0.9},{"w":4849.38,"r":0.92,"k":0.86},{"w":4849.56,"r":0.91,"k":0.82},{"w":4849.75,"r":0.9,"k":0.8},{"w":4849.94,"r":0.9,"k":0.785},{"w":4850.13,"r":0.895,"k":0.79},{"w":4850.32,"r":0.89,"k":0.77},{"w":4850.5,"r":0.89,"k":0.78},{"w":4850.69,"r":0.88,"k":0.765},{"w":4850.88,"r":0.88,"k":0.75},{"w":4850.97,"r":0.87,"k":0.76},{"w":4851.07,"r":0.875,"k":0.77},{"w":4851.25,"r":0.86,"k":0.757},{"w":4851.44,"r":0.87,"k":0.77},{"w":4851.54,"r":0.89,"k":0.76},{"w":4851.63,"r":0.905,"k":0.85},{"w":4851.72,"r":0.91,"k":0.9},{"w":4851.82,"r":0.92,"k":0.89},{"w":4851.91,"r":0.915,"k":0.88},{"w":4852,"r":0.92,"k":0.895},{"w":4852.1,"r":0.91,"k":0.87},{"w":4852.19,"r":0.9,"k":0.917},{"w":4852.29,"r":0.84,"k":0.85},{"w":4852.36,"r":0.55,"k":0.55},{"w":4852.44,"r":0.32,"k":0.317},{"w":4852.5,"r":0.56,"k":0.55},{"w":4852.57,"r":0.88,"k":0.9},{"w":4852.66,"r":0.91,"k":1.01},{"w":4852.76,"r":0.93,"k":1.03},{"w":4852.85,"r":0.9,"k":0.95},{"w":4852.95,"r":0.82,"k":0.86},{"w":4853.04,"r":0.785,"k":0.84},{"w":4853.13,"r":0.88,"k":0.93},{"w":4853.23,"r":0.966,"k":0.99},{"w":4853.32,"r":0.98,"k":1.02},{"w":4853.41,"r":0.99,"k":1.03},{"w":4853.51,"r":1,"k":1},{"w":4853.6,"r":0.99,"k":1.01},{"w":4853.69,"r":0.98,"k":1},{"w":4853.88,"r":0.97,"k":0.97},{"w":4854.07,"r":0.97,"k":0.95},{"w":4854.26,"r":0.96,"k":0.935},{"w":4854.45,"r":0.956,"k":0.93},{"w":4854.63,"r":0.95,"k":0.92},{"w":4854.82,"r":0.95,"k":0.93},{"w":4855.01,"r":0.95,"k":0.93},{"w":4855.2,"r":0.94,"k":0.9},{"w":4855.38,"r":0.93,"k":0.88},{"w":4855.57,"r":0.92,"k":0.86},{"w":4855.76,"r":0.93,"k":0.845},{"w":4855.95,"r":0.91,"k":0.83},{"w":4856.14,"r":0.91,"k":0.815},{"w":4856.32,"r":0.905,"k":0.8},{"w":4856.51,"r":0.9,"k":0.795},{"w":4856.7,"r":0.905,"k":0.785},{"w":4856.89,"r":0.9,"k":0.775},{"w":4856.98,"r":0.89,"k":0.76},{"w":4857.07,"r":0.895,"k":0.75},{"w":4857.17,"r":0.89,"k":0.745},{"w":4857.26,"r":0.885,"k":0.76},{"w":4857.36,"r":0.89,"k":0.77},{"w":4857.45,"r":0.9,"k":0.77},{"w":4857.54,"r":0.92,"k":0.82},{"w":4857.64,"r":0.94,"k":0.845},{"w":4857.73,"r":0.95,"k":0.88},{"w":4857.83,"r":0.96,"k":0.91},{"w":4857.92,"r":0.97,"k":0.94},{"w":4858.01,"r":0.985,"k":0.96},{"w":4858.11,"r":0.98,"k":0.97},{"w":4858.2,"r":0.99,"k":0.98},{"w":4858.39,"r":1,"k":1},{"w":4858.58,"r":0.98,"k":1.02},{"w":4858.76,"r":1.01,"k":0.99},{"w":4858.95,"r":0.99,"k":1.01},{"w":4859.15,"r":1.01,"k":0.99},{"w":4859.35,"r":0.98,"k":1.02},{"w":4859.55,"r":1,"k":1},{"w":4859.75,"r":0.99,"k":1.03},{"w":4859.95,"r":1.01,"k":0.99},{"w":4860.15,"r":0.98,"k":1.02},{"w":4860.35,"r":1,"k":1},{"w":4860.55,"r":0.99,"k":1.03},{"w":4860.75,"r":1.01,"k":0.99},{"w":4860.95,"r":0.99,"k":1.02},{"w":4861.2,"r":1,"k":1.045},{"w":4861.4,"r":0.98,"k":1},{"w":4861.6,"r":1,"k":1.02},{"w":4861.8,"r":0.99,"k":0.99},{"w":4862,"r":1.01,"k":1.01},{"w":4862.2,"r":0.99,"k":0.98},{"w":4862.4,"r":0.98,"k":1},{"w":4862.6,"r":0.99,"k":0.97},{"w":4862.8,"r":0.98,"k":0.96},{"w":4863,"r":0.97,"k":0.97},{"w":4863.2,"r":0.98,"k":0.95},{"w":4863.46,"r":0.96,"k":0.93},{"w":4863.65,"r":0.97,"k":0.94},{"w":4863.83,"r":0.96,"k":0.91},{"w":4864.02,"r":0.95,"k":0.92},{"w":4864.21,"r":0.96,"k":0.89},{"w":4864.4,"r":0.95,"k":0.88},{"w":4864.58,"r":0.94,"k":0.87},{"w":4864.77,"r":0.95,"k":0.86},{"w":4864.9,"r":0.94,"k":0.83},{"w":4865,"r":0.95,"k":0.8},{"w":4865.1,"r":0.93,"k":0.81},{"w":4865.2,"r":0.94,"k":0.8},{"w":4865.3,"r":0.92,"k":0.82},{"w":4865.4,"r":0.93,"k":0.81},{"w":4865.5,"r":0.92,"k":0.86},{"w":4865.6,"r":0.91,"k":0.9},{"w":4865.75,"r":0.93,"k":0.92},{"w":4865.9,"r":0.96,"k":0.95},{"w":4866.05,"r":1,"k":0.96},{"w":4866.2,"r":0.99,"k":0.95},{"w":4866.4,"r":1.02,"k":0.97},{"w":4866.6,"r":1,"k":0.96},{"w":4866.8,"r":1.01,"k":0.98},{"w":4867,"r":0.99,"k":0.99},{"w":4867.2,"r":1.02,"k":0.98},{"w":4867.45,"r":0.98,"k":1.01},{"w":4867.7,"r":1.01,"k":0.99},{"w":4867.95,"r":0.99,"k":1.03},{"w":4868.2,"r":1.02,"k":0.98},{"w":4868.45,"r":0.98,"k":1.01},{"w":4868.7,"r":1,"k":0.97},{"w":4868.95,"r":1.025,"k":1.02},{"w":4869.2,"r":0.99,"k":0.99},{"w":4869.45,"r":1.01,"k":1.03},{"w":4869.7,"r":0.97,"k":0.98},{"w":4869.95,"r":1,"k":1.01},{"w":4870.2,"r":1.02,"k":0.97},{"w":4870.45,"r":0.98,"k":1.02},{"w":4870.7,"r":1.01,"k":0.99},{"w":4870.95,"r":0.99,"k":1.03},{"w":4871.2,"r":1.015,"k":0.98},{"w":4871.45,"r":0.98,"k":1},{"w":4871.7,"r":1,"k":1.02},{"w":4871.95,"r":0.99,"k":1.045},{"w":4872.2,"r":1.02,"k":0.98},{"w":4872.45,"r":0.985,"k":1.01},{"w":4872.7,"r":1.01,"k":0.97},{"w":4872.95,"r":0.97,"k":1.02},{"w":4873.2,"r":1,"k":0.99},{"w":4873.45,"r":1.02,"k":1.03},{"w":4873.7,"r":0.98,"k":0.98},{"w":4873.95,"r":1.01,"k":1.01},{"w":4874.2,"r":0.99,"k":0.965},{"w":4874.45,"r":1.03,"k":1.02},{"w":4874.7,"r":0.98,"k":0.99},{"w":4874.95,"r":1,"k":1.025},{"w":4875.2,"r":0.97,"k":0.98},{"w":4875.45,"r":1.01,"k":1.01},{"w":4875.7,"r":0.99,"k":0.97},{"w":4875.95,"r":1.02,"k":1.02},{"w":4876.2,"r":0.985,"k":1},{"w":4876.45,"r":1.01,"k":1.035},{"w":4876.7,"r":0.98,"k":0.98},{"w":4876.95,"r":1.02,"k":1.01},{"w":4877.2,"r":0.99,"k":0.97},{"w":4877.45,"r":1,"k":1.02},{"w":4877.7,"r":0.975,"k":0.99},{"w":4877.95,"r":1.01,"k":1.03},{"w":4878.2,"r":0.99,"k":0.98},{"w":4878.45,"r":1.025,"k":1.01},{"w":4878.7,"r":0.98,"k":0.96},{"w":4878.95,"r":1,"k":1.02},{"w":4879.2,"r":1.02,"k":0.99},{"w":4879.45,"r":0.98,"k":1.025},{"w":4879.7,"r":1.01,"k":0.98},{"w":4879.95,"r":0.99,"k":1.01},{"w":4880.2,"r":1.02,"k":0.97},{"w":4880.45,"r":0.98,"k":1.02},{"w":4880.7,"r":1,"k":0.99},{"w":4880.95,"r":0.97,"k":1.03},{"w":4881.2,"r":1.01,"k":0.98},{"w":4881.45,"r":0.99,"k":1.01},{"w":4881.7,"r":1.02,"k":0.975},{"w":4881.95,"r":0.985,"k":1.02},{"w":4882.2,"r":1.01,"k":0.99},{"w":4882.45,"r":0.98,"k":1.03},{"w":4882.7,"r":1.02,"k":0.98},{"w":4882.95,"r":0.99,"k":1.01},{"w":4883.2,"r":1,"k":0.97},{"w":4883.45,"r":0.975,"k":1.02},{"w":4883.7,"r":1.01,"k":0.99},{"w":4883.95,"r":0.99,"k":1.025},{"w":4884.2,"r":1.02,"k":0.98},{"w":4884.45,"r":0.98,"k":1},{"w":4884.7,"r":1.01,"k":0.965},{"w":4884.95,"r":0.99,"k":1.02},{"w":4885.2,"r":1.025,"k":0.99},{"w":4885.45,"r":0.98,"k":1.03},{"w":4885.7,"r":1,"k":0.98},{"w":4885.95,"r":0.97,"k":1.01},{"w":4886.2,"r":1.02,"k":0.99},{"w":4886.45,"r":0.99,"k":1.02},{"w":4886.7,"r":1.01,"k":0.97},{"w":4886.95,"r":0.98,"k":1.01},{"w":4887.2,"r":1.02,"k":0.99},{"w":4887.45,"r":0.99,"k":1.025},{"w":4887.7,"r":1.01,"k":0.98},{"w":4887.95,"r":0.97,"k":1.01},{"w":4888.2,"r":1,"k":0.98},{"w":4888.45,"r":1.02,"k":1.02},{"w":4888.7,"r":0.98,"k":0.99},{"w":4888.95,"r":1.01,"k":1},{"w":4889.2,"r":1.035,"k":0.98},{"w":4889.45,"r":0.99,"k":1.01}]},
     "transform": [{"fold": ["r", "k"], "as": ["s", "f"]}],
     "mark": {"type": "line", "strokeWidth": 1.8, "clip": true},
     "encoding": {
      "x": {"field": "w", "type": "quantitative", "scale": {"domain": [4836, 4889.5], "nice": false, "zero": false}, "axis": {"orient": "bottom", "values": [4836,4838,4840,4842,4844,4846,4848,4850,4852,4854,4856,4858,4860,4862,4864,4866,4868,4870,4872,4874,4876,4878,4880,4882,4884,4886,4888], "format": "d", "labelExpr": "datum.value % 10 === 0 ? datum.label : ''", "domain": false, "grid": false, "tickSize": -9, "tickWidth": 2, "tickColor": "#000", "labelPadding": 43, "labelBaseline": "middle", "labelFont": "DejaVu Serif", "labelFontSize": 33, "labelColor": "#000", "labelOverlap": false, "labelFlush": false, "title": "Observed Wavelength (A)", "titleFont": "DejaVu Serif", "titleFontSize": 35, "titleFontWeight": "normal", "titleColor": "#000", "titleY": 88, "titleBaseline": "middle"}},
      "y": {"field": "f", "type": "quantitative", "scale": {"domain": [0, 1.25], "nice": false, "zero": false}, "axis": {"orient": "left", "values": [0,0.1,0.2,0.3,0.4,0.5,0.6,0.7,0.8,0.9,1,1.1,1.2], "format": "~g", "labelExpr": "round(datum.value * 10) % 2 === 0 ? datum.label : ''", "domain": false, "grid": false, "tickSize": -12, "tickWidth": 2, "tickColor": "#000", "labelPadding": 26, "labelBaseline": "middle", "labelFont": "DejaVu Serif", "labelFontSize": 33, "labelColor": "#000", "labelOverlap": false, "labelFlush": false, "title": "Normalized Flux", "titleFont": "DejaVu Serif", "titleFontSize": 35, "titleFontWeight": "normal", "titleColor": "#000", "titleX": -97, "titleY": 398, "titleAngle": -90, "titleBaseline": "middle", "titleAlign": "center"}},
      "color": {"field": "s", "type": "nominal", "scale": {"domain": ["r","g","k","b"], "range": ["#f02a2a","#3ddc3d","#000000","#2a3ff0"]}, "legend": null}
     }},
    {"data": {"values": [{"w":4836,"g":1},{"w":4839.8,"g":1},{"w":4840,"g":0.998},{"w":4840.37,"g":0.99},{"w":4840.55,"g":0.98},{"w":4840.93,"g":0.96},{"w":4841.31,"g":0.925},{"w":4841.68,"g":0.89},{"w":4842.06,"g":0.855},{"w":4842.34,"g":0.835},{"w":4842.62,"g":0.825},{"w":4842.9,"g":0.819},{"w":4843.09,"g":0.822},{"w":4843.28,"g":0.835},{"w":4843.46,"g":0.86},{"w":4843.65,"g":0.9},{"w":4843.84,"g":0.935},{"w":4844.03,"g":0.965},{"w":4844.22,"g":0.985},{"w":4844.4,"g":0.995},{"w":4844.6,"g":1},{"w":4848.6,"g":1},{"w":4848.81,"g":0.995},{"w":4849,"g":0.985},{"w":4849.19,"g":0.965},{"w":4849.38,"g":0.946},{"w":4849.56,"g":0.93},{"w":4849.75,"g":0.915},{"w":4849.94,"g":0.905},{"w":4850.13,"g":0.897},{"w":4850.32,"g":0.89},{"w":4850.5,"g":0.884},{"w":4850.69,"g":0.879},{"w":4850.88,"g":0.876},{"w":4850.97,"g":0.875},{"w":4851.07,"g":0.876},{"w":4851.25,"g":0.885},{"w":4851.44,"g":0.897},{"w":4851.63,"g":0.92},{"w":4851.82,"g":0.946},{"w":4852,"g":0.968},{"w":4852.19,"g":0.985},{"w":4852.38,"g":0.995},{"w":4852.57,"g":1},{"w":4855.2,"g":1},{"w":4855.57,"g":0.995},{"w":4855.76,"g":0.982},{"w":4855.95,"g":0.97},{"w":4856.14,"g":0.955},{"w":4856.32,"g":0.94},{"w":4856.51,"g":0.925},{"w":4856.7,"g":0.912},{"w":4856.89,"g":0.904},{"w":4857.07,"g":0.9},{"w":4857.26,"g":0.899},{"w":4857.45,"g":0.912},{"w":4857.64,"g":0.932},{"w":4857.83,"g":0.955},{"w":4858.01,"g":0.975},{"w":4858.2,"g":0.99},{"w":4858.39,"g":1},{"w":4863.2,"g":1},{"w":4863.5,"g":0.995},{"w":4863.83,"g":0.982},{"w":4864.21,"g":0.965},{"w":4864.58,"g":0.95},{"w":4864.9,"g":0.942},{"w":4865.1,"g":0.94},{"w":4865.35,"g":0.942},{"w":4865.6,"g":0.96},{"w":4865.85,"g":0.985},{"w":4866.1,"g":1},{"w":4889.5,"g":1},{"w":4836,"b":1},{"w":4839.2,"b":1},{"w":4839.43,"b":0.998},{"w":4839.8,"b":0.99},{"w":4840,"b":0.982},{"w":4840.37,"b":0.953},{"w":4840.75,"b":0.915},{"w":4841.1,"b":0.875},{"w":4841.31,"b":0.848},{"w":4841.68,"b":0.8},{"w":4842.06,"b":0.75},{"w":4842.34,"b":0.727},{"w":4842.62,"b":0.717},{"w":4842.9,"b":0.722},{"w":4843.18,"b":0.743},{"w":4843.37,"b":0.79},{"w":4843.56,"b":0.841},{"w":4843.75,"b":0.89},{"w":4843.93,"b":0.926},{"w":4844.12,"b":0.958},{"w":4844.31,"b":0.982},{"w":4844.5,"b":0.995},{"w":4844.7,"b":1},{"w":4848.44,"b":1},{"w":4848.63,"b":0.995},{"w":4848.81,"b":0.982},{"w":4849,"b":0.955},{"w":4849.19,"b":0.918},{"w":4849.38,"b":0.878},{"w":4849.56,"b":0.845},{"w":4849.75,"b":0.822},{"w":4849.94,"b":0.8},{"w":4850.13,"b":0.787},{"w":4850.32,"b":0.778},{"w":4850.5,"b":0.774},{"w":4850.69,"b":0.773},{"w":4850.88,"b":0.777},{"w":4851.07,"b":0.79},{"w":4851.25,"b":0.815},{"w":4851.44,"b":0.85},{"w":4851.63,"b":0.89},{"w":4851.82,"b":0.93},{"w":4852,"b":0.96},{"w":4852.19,"b":0.98},{"w":4852.38,"b":0.993},{"w":4852.57,"b":1},{"w":4853.69,"b":1},{"w":4853.88,"b":0.995},{"w":4854.07,"b":0.985},{"w":4854.26,"b":0.975},{"w":4854.45,"b":0.962},{"w":4854.63,"b":0.945},{"w":4854.82,"b":0.932},{"w":4855.01,"b":0.918},{"w":4855.2,"b":0.902},{"w":4855.38,"b":0.886},{"w":4855.57,"b":0.869},{"w":4855.76,"b":0.855},{"w":4855.95,"b":0.84},{"w":4856.14,"b":0.827},{"w":4856.32,"b":0.812},{"w":4856.51,"b":0.797},{"w":4856.7,"b":0.782},{"w":4856.89,"b":0.771},{"w":4857.07,"b":0.764},{"w":4857.26,"b":0.764},{"w":4857.36,"b":0.768},{"w":4857.45,"b":0.79},{"w":4857.54,"b":0.82},{"w":4857.64,"b":0.85},{"w":4857.73,"b":0.88},{"w":4857.83,"b":0.904},{"w":4857.92,"b":0.935},{"w":4858.01,"b":0.955},{"w":4858.11,"b":0.968},{"w":4858.2,"b":0.985},{"w":4858.39,"b":0.996},{"w":4858.58,"b":1},{"w":4862.2,"b":1},{"w":4862.6,"b":0.99},{"w":4863,"b":0.975},{"w":4863.46,"b":0.94},{"w":4863.83,"b":0.91},{"w":4864.21,"b":0.88},{"w":4864.58,"b":0.857},{"w":4864.9,"b":0.846},{"w":4865.1,"b":0.843},{"w":4865.3,"b":0.852},{"w":4865.5,"b":0.88},{"w":4865.7,"b":0.925},{"w":4865.9,"b":0.965},{"w":4866.1,"b":0.99},{"w":4866.3,"b":1},{"w":4889.5,"b":1}]},
     "transform": [{"fold": ["g", "b"], "as": ["s", "f"]}, {"filter": "isValid(datum.f)"}],
     "mark": {"type": "line", "strokeWidth": 2.2, "clip": true},
     "encoding": {
      "x": {"field": "w", "type": "quantitative", "scale": {"domain": [4836, 4889.5], "nice": false, "zero": false}, "axis": null},
      "y": {"field": "f", "type": "quantitative", "scale": {"domain": [0, 1.25], "nice": false, "zero": false}, "axis": null},
      "color": {"field": "s", "type": "nominal", "scale": {"domain": ["r","g","k","b"], "range": ["#f02a2a","#3ddc3d","#000000","#2a3ff0"]}, "legend": null}
     }},
    {"data": {"values": [{"w":4836,"r":0.015,"k":0.021},{"w":4837,"r":0.016,"k":0.023},{"w":4838,"r":0.014,"k":0.02},{"w":4839,"r":0.016,"k":0.022},{"w":4840,"r":0.015,"k":0.021},{"w":4841,"r":0.016,"k":0.023},{"w":4842,"r":0.014,"k":0.02},{"w":4843,"r":0.015,"k":0.022},{"w":4844,"r":0.013,"k":0.021},{"w":4844.4,"r":0.005,"k":0.018},{"w":4845,"r":0.014,"k":0.02},{"w":4846,"r":0.015,"k":0.019},{"w":4847,"r":0.016,"k":0.021},{"w":4848,"r":0.014,"k":0.02},{"w":4849,"r":0.015,"k":0.022},{"w":4850,"r":0.016,"k":0.02},{"w":4851,"r":0.015,"k":0.019},{"w":4852,"r":0.014,"k":0.02},{"w":4853,"r":0.016,"k":0.023},{"w":4854,"r":0.015,"k":0.021},{"w":4855,"r":0.016,"k":0.02},{"w":4856,"r":0.015,"k":0.022},{"w":4857,"r":0.014,"k":0.02},{"w":4858,"r":0.016,"k":0.021},{"w":4859,"r":0.015,"k":0.022},{"w":4860,"r":0.016,"k":0.02},{"w":4861,"r":0.015,"k":0.024},{"w":4862,"r":0.014,"k":0.021},{"w":4863,"r":0.016,"k":0.022},{"w":4864,"r":0.015,"k":0.02},{"w":4865,"r":0.016,"k":0.021},{"w":4866,"r":0.015,"k":0.022},{"w":4867,"r":0.014,"k":0.02},{"w":4868,"r":0.016,"k":0.021},{"w":4869,"r":0.015,"k":0.022},{"w":4870,"r":0.016,"k":0.02},{"w":4871,"r":0.015,"k":0.021},{"w":4872,"r":0.014,"k":0.022},{"w":4873,"r":0.016,"k":0.02},{"w":4874,"r":0.015,"k":0.021},{"w":4875,"r":0.016,"k":0.022},{"w":4876,"r":0.015,"k":0.02},{"w":4877,"r":0.014,"k":0.021},{"w":4878,"r":0.016,"k":0.022},{"w":4879,"r":0.015,"k":0.02},{"w":4880,"r":0.016,"k":0.021},{"w":4881,"r":0.015,"k":0.022},{"w":4882,"r":0.014,"k":0.02},{"w":4883,"r":0.016,"k":0.021},{"w":4884,"r":0.015,"k":0.022},{"w":4885,"r":0.016,"k":0.02},{"w":4886,"r":0.015,"k":0.021},{"w":4887,"r":0.014,"k":0.022},{"w":4888,"r":0.016,"k":0.02},{"w":4889.5,"r":0.015,"k":0.021}]},
     "transform": [{"fold": ["r", "k"], "as": ["s", "f"]}],
     "mark": {"type": "line", "strokeWidth": 2, "clip": true},
     "encoding": {
      "x": {"field": "w", "type": "quantitative", "scale": {"domain": [4836, 4889.5], "nice": false, "zero": false}, "axis": null},
      "y": {"field": "f", "type": "quantitative", "scale": {"domain": [0, 1.25], "nice": false, "zero": false}, "axis": null},
      "color": {"field": "s", "type": "nominal", "scale": {"domain": ["r","g","k","b"], "range": ["#f02a2a","#3ddc3d","#000000","#2a3ff0"]}, "legend": null},
      "strokeDash": {"field": "s", "type": "nominal", "scale": {"domain": ["r","k"], "range": [[5,6],[2,6]]}, "legend": null}
     }},
    {"data": {"values": [{"b":"E","o":1,"w":4842.38,"f":1.099},{"b":"E","o":2,"w":4842.38,"f":1.1386},{"b":"E","o":3,"w":4850.45,"f":1.1386},{"b":"E","o":4,"w":4850.45,"f":1.099},{"b":"D","o":1,"w":4856.78,"f":1.099},{"b":"D","o":2,"w":4856.78,"f":1.1386},{"b":"D","o":3,"w":4864.86,"f":1.1386},{"b":"D","o":4,"w":4864.86,"f":1.099}]},
     "mark": {"type": "line", "color": "#000000", "strokeWidth": 2.6},
     "encoding": {
      "x": {"field": "w", "type": "quantitative", "scale": {"domain": [4836, 4889.5], "nice": false, "zero": false}, "axis": null},
      "y": {"field": "f", "type": "quantitative", "scale": {"domain": [0, 1.25], "nice": false, "zero": false}, "axis": null},
      "detail": {"field": "b", "type": "nominal"},
      "order": {"field": "o", "type": "quantitative"}
     }},
    {"data": {"values": [{"t":"E","w":4846.43,"f":1.1685},{"t":"D","w":4860.8,"f":1.1685}]},
     "mark": {"type": "text", "font": "DejaVu Serif", "fontWeight": "bold", "fontSize": 30, "color": "#000000", "baseline": "middle", "align": "center"},
     "encoding": {
      "x": {"field": "w", "type": "quantitative", "scale": {"domain": [4836, 4889.5], "nice": false, "zero": false}, "axis": null},
      "y": {"field": "f", "type": "quantitative", "scale": {"domain": [0, 1.25], "nice": false, "zero": false}, "axis": null},
      "text": {"field": "t", "type": "nominal"}
     }},
    {"data": {"values": [{"s":"r","w":4861.02,"w2":4864.94,"tx":4865.56,"f":0.258,"t":"VLT 2008.67"},{"s":"g","w":4876.94,"w2":4879.92,"tx":4880.57,"f":0.258,"t":"fit"},{"s":"k","w":4861.02,"w2":4864.94,"tx":4865.56,"f":0.169,"t":"Keck 2006.64"},{"s":"b","w":4876.94,"w2":4879.92,"tx":4880.57,"f":0.169,"t":"fit"}]},
     "mark": {"type": "rule", "strokeWidth": 2.4},
     "encoding": {
      "x": {"field": "w", "type": "quantitative", "scale": {"domain": [4836, 4889.5], "nice": false, "zero": false}, "axis": null},
      "x2": {"field": "w2"},
      "y": {"field": "f", "type": "quantitative", "scale": {"domain": [0, 1.25], "nice": false, "zero": false}, "axis": null},
      "color": {"field": "s", "type": "nominal", "scale": {"domain": ["r","g","k","b"], "range": ["#f02a2a","#3ddc3d","#000000","#2a3ff0"]}, "legend": null}
     }},
    {"data": {"values": [{"s":"r","w":4861.02,"w2":4864.94,"tx":4865.56,"f":0.258,"t":"VLT 2008.67"},{"s":"g","w":4876.94,"w2":4879.92,"tx":4880.57,"f":0.258,"t":"fit"},{"s":"k","w":4861.02,"w2":4864.94,"tx":4865.56,"f":0.169,"t":"Keck 2006.64"},{"s":"b","w":4876.94,"w2":4879.92,"tx":4880.57,"f":0.169,"t":"fit"}]},
     "mark": {"type": "text", "font": "DejaVu Serif", "fontSize": 35, "align": "left", "baseline": "middle"},
     "encoding": {
      "x": {"field": "tx", "type": "quantitative", "scale": {"domain": [4836, 4889.5], "nice": false, "zero": false}, "axis": null},
      "y": {"field": "f", "type": "quantitative", "scale": {"domain": [0, 1.25], "nice": false, "zero": false}, "axis": null},
      "text": {"field": "t", "type": "nominal"},
      "color": {"field": "s", "type": "nominal", "scale": {"domain": ["r","g","k","b"], "range": ["#f02a2a","#3ddc3d","#000000","#2a3ff0"]}, "legend": null}
     }},
    {"data": {"values": [{"w": 4871.48, "f": 0.55, "t": "C IV 1548,1551"}]},
     "mark": {"type": "text", "font": "Liberation Serif", "fontSize": 52, "align": "left", "baseline": "alphabetic", "color": "#1a1a9c"},
     "encoding": {
      "x": {"field": "w", "type": "quantitative", "scale": {"domain": [4836, 4889.5], "nice": false, "zero": false}, "axis": null},
      "y": {"field": "f", "type": "quantitative", "scale": {"domain": [0, 1.25], "nice": false, "zero": false}, "axis": null},
      "text": {"field": "t", "type": "nominal"}
     }},
    {"data": {"values": [{"v": -14449}, {"v": -11153}]}, "mark": {"type": "point", "opacity": 0},
     "encoding": {
      "x": {"field": "v", "type": "quantitative", "scale": {"domain": [-14449, -11153], "nice": false, "zero": false}, "axis": {"orient": "top", "values": [-14400,-14300,-14200,-14100,-14000,-13900,-13800,-13700,-13600,-13500,-13400,-13300,-13200,-13100,-13000,-12900,-12800,-12700,-12600,-12500,-12400,-12300,-12200,-12100,-12000,-11900,-11800,-11700,-11600,-11500,-11400,-11300,-11200], "format": "d", "labelExpr": "datum.value % 500 === 0 ? datum.label : ''", "domain": false, "grid": false, "tickSize": -12, "tickWidth": 2, "tickColor": "#000", "labelPadding": 41, "labelBaseline": "middle", "labelFont": "DejaVu Serif", "labelFontSize": 33, "labelColor": "#000", "labelOverlap": false, "labelFlush": false, "title": null}}
     }}
   ]
  }
 ]},
 {"width":30,"height":11,"data":{"values":[{"a":1}]},"mark":{"type":"point","opacity":0}},
 {"width":4,"height":1943,"view":{"fill":"#931300"},"data":{"values":[{"a":1}]},"mark":{"type":"point","opacity":0}}
]}
]
}
